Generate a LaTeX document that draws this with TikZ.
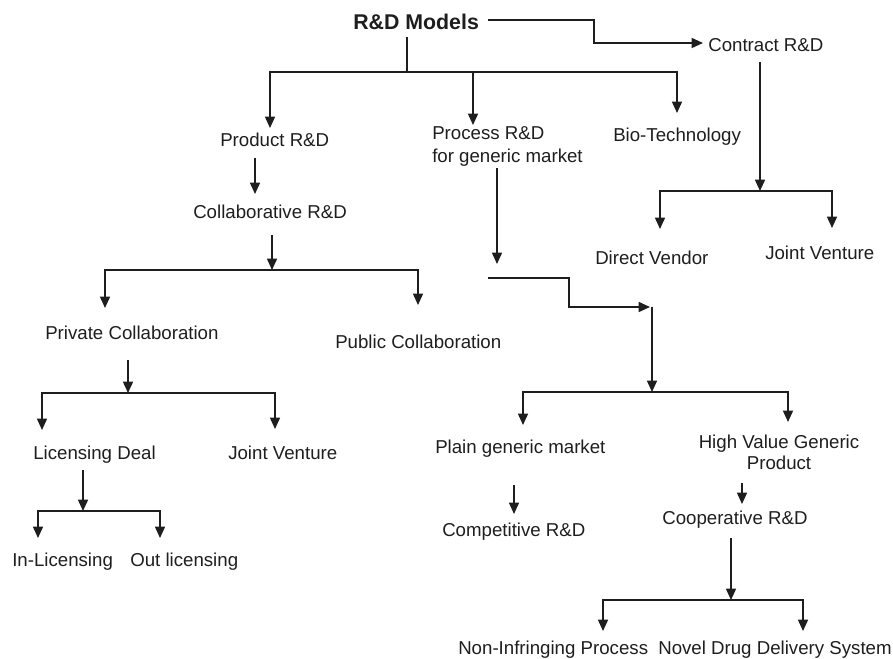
\documentclass[tikz,border=0pt]{standalone}
\usepackage{fontspec}
\setmainfont{Liberation Sans}
\usetikzlibrary{arrows.meta}
\definecolor{ink}{HTML}{1E1E1E}
\begin{document}
\begin{tikzpicture}[x=0.75pt,y=-0.75pt,
  lbl/.style={inner sep=0pt,anchor=base west,text=ink,font=\fontsize{14}{17.25}\selectfont},
  conn/.style={draw=ink,line width=1.15pt},
  arr/.style={conn,-{Triangle[length=8.5pt,width=7.5pt]}}]
\useasboundingbox (0,0) rectangle (893,659);
% nodes
\node[lbl,font=\bfseries\fontsize{16}{19}\selectfont] (models) at (353,30) {R\&D Models};
\node[lbl] (contract) at (708,51.5) {Contract R\&D};
\node[lbl] (product) at (220,146.5) {Product R\&D};
\node[lbl,anchor=west,align=left] (process) at (432,146) {Process R\&D\\for generic market};
\node[lbl] (biotech) at (613,141.5) {Bio-Technology};
\node[lbl] (collab) at (193,218.5) {Collaborative R\&D};
\node[lbl] (private) at (45,339.5) {Private Collaboration};
\node[lbl] (public) at (335,348.5) {Public Collaboration};
\node[lbl] (direct) at (595,264.5) {Direct Vendor};
\node[lbl] (jvB) at (765,259.5) {Joint Venture};
\node[lbl] (licdeal) at (33,459.5) {Licensing Deal};
\node[lbl] (jvA) at (228,459.5) {Joint Venture};
\node[lbl] (inlic) at (12,566.5) {In-Licensing};
\node[lbl] (outlic) at (130,566.5) {Out licensing};
\node[lbl] (plain) at (435,453.5) {Plain generic market};
\node[lbl,anchor=center,align=center,font=\fontsize{14}{15.75}\selectfont] (hvgp) at (779,452.5) {High Value Generic\\Product};
\node[lbl] (compet) at (442,536.5) {Competitive R\&D};
\node[lbl] (coop) at (662,524.5) {Cooperative R\&D};
\node[lbl] (noninf) at (458,654.5) {Non-Infringing Process};
\node[lbl] (ndds) at (658,654.5) {Novel Drug Delivery System};
% junction and end coordinates
\coordinate (m0) at (488,20);
\coordinate (mc) at (594,43);
\coordinate (mt) at (703,43);
\coordinate (b0) at (407,37);
\coordinate (b1) at (407,72);
\coordinate (tProduct) at (270,128);
\coordinate (tProcess) at (473,125);
\coordinate (tBio) at (677,113);
\coordinate (c0) at (760,62);
\coordinate (c1) at (760,191);
\coordinate (tDirect) at (660,229);
\coordinate (tJvB) at (832,228);
\coordinate (p0) at (255,158);
\coordinate (p1) at (255,194);
\coordinate (d0) at (272,235);
\coordinate (d1) at (272,270);
\coordinate (tPrivate) at (105,308);
\coordinate (tPublic) at (418,305);
\coordinate (e0) at (128,360);
\coordinate (e1) at (128,393);
\coordinate (tLic) at (42,430);
\coordinate (tJvA) at (275,429);
\coordinate (f0) at (83,470);
\coordinate (f1) at (83,511);
\coordinate (tIn) at (38,538);
\coordinate (tOut) at (160,538);
\coordinate (g0) at (497,168);
\coordinate (g1) at (497,264);
\coordinate (h0) at (488,278);
\coordinate (h1) at (569,307);
\coordinate (h2) at (650,307);
\coordinate (h3) at (652,307);
\coordinate (h4) at (652,392);
\coordinate (tPlain) at (523,425);
\coordinate (tHvgp) at (788,422);
\coordinate (k0) at (742,483);
\coordinate (k1) at (742,504);
\coordinate (q0) at (514,485);
\coordinate (q1) at (514,514);
\coordinate (l0) at (731,538);
\coordinate (l1) at (731,600);
\coordinate (tNon) at (603,631);
\coordinate (tNdds) at (803,631);
% connectors
\draw[arr] (m0) -| (mc) -- (mt);
\draw[conn] (b0) -- (b1);
\draw[arr] (b1) -| (tProduct);
\draw[arr] (b1 -| tProcess) -- (tProcess);
\draw[arr] (b1) -| (tBio);
\draw[arr] (c0) -- (c1);
\draw[arr] (c1) -| (tDirect);
\draw[arr] (c1) -| (tJvB);
\draw[arr] (p0) -- (p1);
\draw[arr] (d0) -- (d1);
\draw[arr] (d1) -| (tPrivate);
\draw[arr] (d1) -| (tPublic);
\draw[arr] (e0) -- (e1);
\draw[arr] (e1) -| (tLic);
\draw[arr] (e1) -| (tJvA);
\draw[arr] (f0) -- (f1);
\draw[arr] (f1) -| (tIn);
\draw[arr] (f1) -| (tOut);
\draw[arr] (g0) -- (g1);
\draw[arr] (h0) -| (h1) -- (h2);
\draw[arr] (h3) -- (h4);
\draw[arr] (h4) -| (tPlain);
\draw[arr] (h4) -| (tHvgp);
\draw[arr] (k0) -- (k1);
\draw[arr] (q0) -- (q1);
\draw[arr] (l0) -- (l1);
\draw[arr] (l1) -| (tNon);
\draw[arr] (l1) -| (tNdds);
\end{tikzpicture}
\end{document}
